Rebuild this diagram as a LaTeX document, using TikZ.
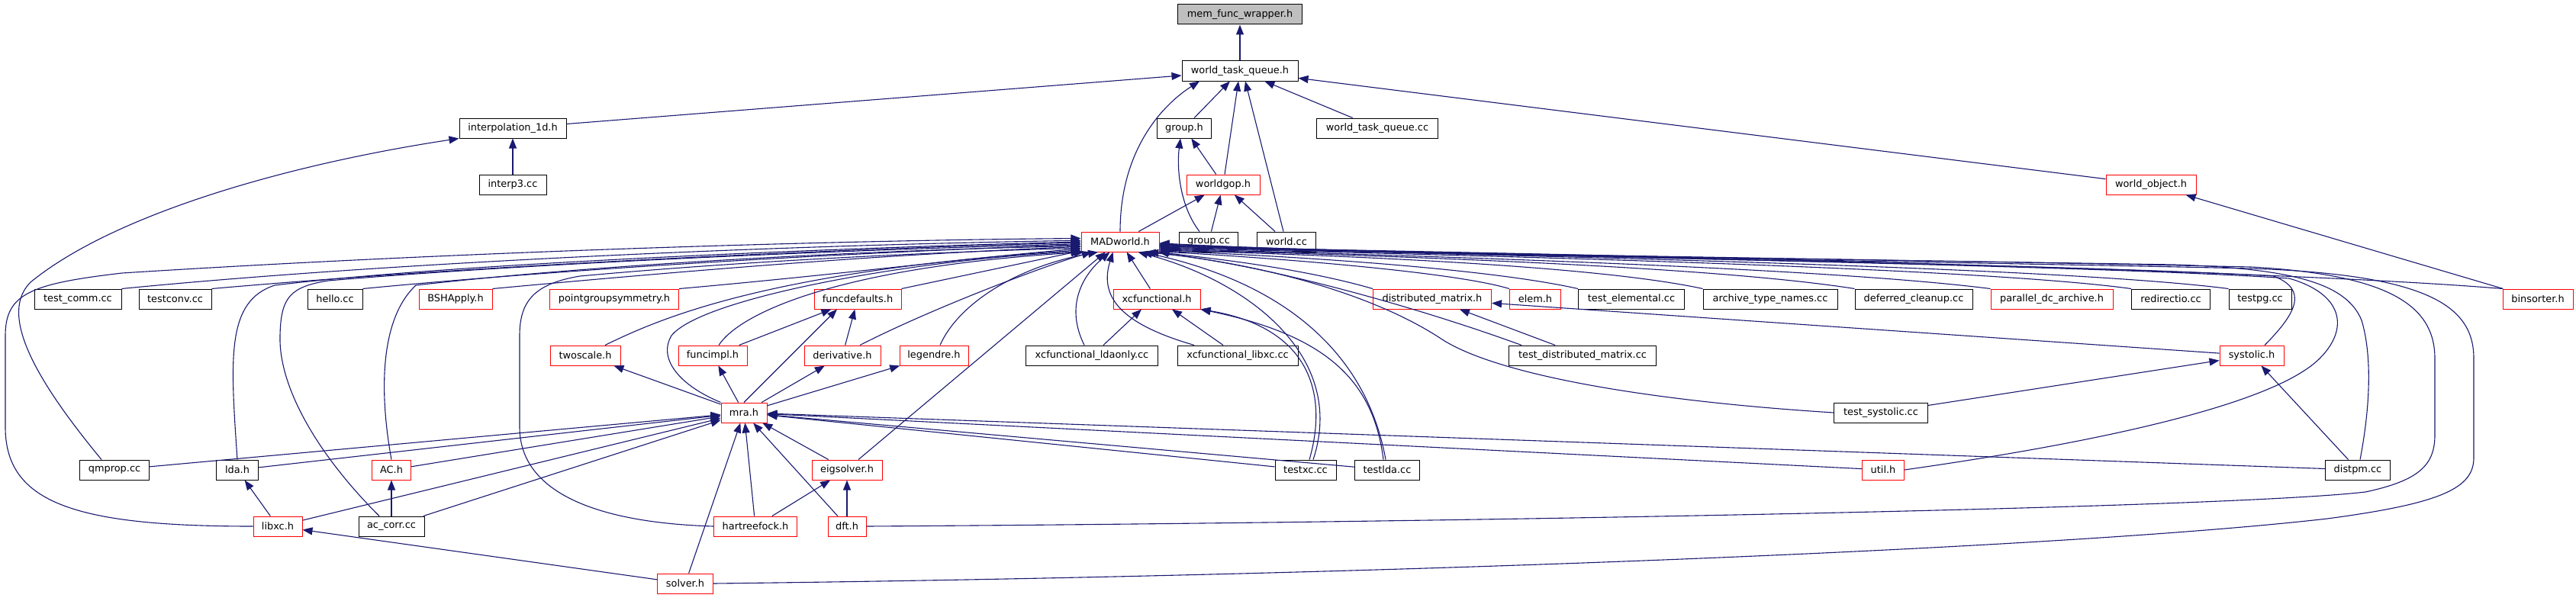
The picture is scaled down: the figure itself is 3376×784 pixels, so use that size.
\documentclass[tikz,border=0pt]{standalone}
\usepackage{fontspec}
\setmainfont{DejaVu Sans}
\usetikzlibrary{arrows.meta}
\definecolor{edgeblue}{RGB}{25,25,112}
\definecolor{nodegray}{RGB}{191,191,191}
\begin{document}
\begin{tikzpicture}[x=1pt,y=-1pt,
  font=\fontsize{12.9pt}{15pt}\selectfont,
  nb/.style={draw=black, line width=1pt, minimum height=26pt, inner sep=0pt, fill=white},
  nr/.style={nb, draw=red},
  e/.style={draw=edgeblue, line width=1.1pt, -{Triangle[length=13pt,width=10pt]}}]
\useasboundingbox (0,0) rectangle (3376,784);
% row 0-4
\node[nb, fill=nodegray, minimum width=163pt] (memf) at (1625,19) {mem\_func\_wrapper.h};
\node[nb, minimum width=152pt] (wtq) at (1625,93) {world\_task\_queue.h};
\node[nb, minimum width=140pt] (interp) at (672,168) {interpolation\_1d.h};
\node[nb, minimum width=71pt] (grouph) at (1552,168) {group.h};
\node[nb, minimum width=159pt] (wtqcc) at (1805,168) {world\_task\_queue.cc};
\node[nb, minimum width=88pt] (interp3) at (672,242) {interp3.cc};
\node[nr, minimum width=96pt] (worldgop) at (1603,242) {worldgop.h};
\node[nr, minimum width=118pt] (worldobj) at (2819,242) {world\_object.h};
\node[nr, minimum width=102pt] (madworld) at (1468,317) {MADworld.h};
\node[nb, minimum width=77pt] (groupcc) at (1584,317) {group.cc};
\node[nb, minimum width=77pt] (worldcc) at (1686,317) {world.cc};
% row 5
\node[nb, minimum width=114pt] (testcomm) at (102,392) {test\_comm.cc};
\node[nb, minimum width=95pt] (testconv) at (229.5,392) {testconv.cc};
\node[nb, minimum width=72pt] (hello) at (439,392) {hello.cc};
\node[nr, minimum width=96pt] (bsh) at (597,392) {BSHApply.h};
\node[nr, minimum width=169pt] (pgs) at (805,392) {pointgroupsymmetry.h};
\node[nr, minimum width=114pt] (funcdef) at (1124,392) {funcdefaults.h};
\node[nr, minimum width=114pt] (xcfunc) at (1516,392) {xcfunctional.h};
\node[nr, minimum width=155pt] (distmat) at (1877,392) {distributed\_matrix.h};
\node[nr, minimum width=67pt] (elem) at (2012,392) {elem.h};
\node[nb, minimum width=139pt] (testelem) at (2138,392) {test\_elemental.cc};
\node[nb, minimum width=176pt] (archive) at (2320,392) {archive\_type\_names.cc};
\node[nb, minimum width=154pt] (deferred) at (2508,392) {deferred\_cleanup.cc};
\node[nr, minimum width=160pt] (pdc) at (2689,392) {parallel\_dc\_archive.h};
\node[nb, minimum width=103pt] (redirect) at (2845,392) {redirectio.cc};
\node[nb, minimum width=82pt] (testpg) at (2962,392) {testpg.cc};
\node[nr, minimum width=92pt] (binsorter) at (3326,392) {binsorter.h};
% row 6
\node[nr, minimum width=92pt] (twoscale) at (767,466) {twoscale.h};
\node[nr, minimum width=90pt] (funcimpl) at (934,466) {funcimpl.h};
\node[nr, minimum width=100pt] (derivative) at (1104,466) {derivative.h};
\node[nr, minimum width=90pt] (legendre) at (1224,466) {legendre.h};
\node[nb, minimum width=173pt] (xcldaonly) at (1431,466) {xcfunctional\_ldaonly.cc};
\node[nb, minimum width=158pt] (xclibxc) at (1622,466) {xcfunctional\_libxc.cc};
\node[nb, minimum width=193pt] (testdistmat) at (2074,466) {test\_distributed\_matrix.cc};
\node[nr, minimum width=84pt] (systolic) at (2951,466) {systolic.h};
% row 7
\node[nr, minimum width=60pt] (mra) at (975,541) {mra.h};
\node[nb, minimum width=123pt] (testsystolic) at (2465,541) {test\_systolic.cc};
% row 8
\node[nb, minimum width=91pt] (qmprop) at (150,616) {qmprop.cc};
\node[nb, minimum width=55pt] (ldah) at (311,616) {lda.h};
\node[nr, minimum width=51pt] (ach) at (513,616) {AC.h};
\node[nr, minimum width=92pt] (eigsolver) at (1110,616) {eigsolver.h};
\node[nb, minimum width=80pt] (testxc) at (1711,616) {testxc.cc};
\node[nb, minimum width=85pt] (testlda) at (1818,616) {testlda.cc};
\node[nr, minimum width=55pt] (utilh) at (2468,616) {util.h};
\node[nb, minimum width=85pt] (distpm) at (3090,616) {distpm.cc};
% row 9-10
\node[nr, minimum width=64pt] (libxc) at (364,690) {libxc.h};
\node[nb, minimum width=86pt] (accorr) at (513,690) {ac\_corr.cc};
\node[nr, minimum width=109pt] (hartree) at (990,690) {hartreefock.h};
\node[nr, minimum width=50pt] (dft) at (1110,690) {dft.h};
\node[nr, minimum width=73pt] (solver) at (898,765) {solver.h};

% ---- top edges
\draw[e] (wtq) -- (memf);
\draw[e] (interp) -- (wtq);
\draw[e] (grouph) -- (wtq);
\draw[e] (worldgop) -- (wtq);
\draw[e] ([xshift=-4pt]worldcc.north) -- ([xshift=7pt]wtq.south);
\draw[e] (wtqcc) -- (wtq);
\draw[e] (worldobj) -- (wtq);
\draw[e] (madworld.north) .. controls (1468,200) and (1520,140) .. ([xshift=-53pt]wtq.south);
\draw[e] (interp3) -- (interp);
\draw[e] ([xshift=-12pt]groupcc.north) .. controls (1546,270) and (1542,220) .. ([xshift=-5pt]grouph.south);
\draw[e] (worldgop) -- (grouph);
\draw[e] (groupcc) -- (worldgop);
\draw[e] (madworld) -- (worldgop);
\draw[e] (worldcc) -- (worldgop);
\draw[e] (binsorter) -- (worldobj);
\draw[e] ([xshift=-17pt]qmprop.north) .. controls (40,490) and (0,410) .. (40,370) .. controls (150,280) and (380,215) .. (interp.south west);

% ---- left edges into MADworld
\draw[e] (libxc.west) .. controls (100,690) and (7,660) .. (7,560) -- (7,440) .. controls (7,385) and (40,372) .. (160,358) .. controls (600,330) and (1100,315) .. (madworld.175);
\draw[e] (testcomm.north east) .. controls (500,345) and (1000,322) .. (madworld.178);
\draw[e] (testconv.north east) .. controls (600,350) and (1050,328) .. (madworld.181);
\draw[e] (hello.north east) .. controls (750,352) and (1100,332) .. (madworld.184);
\draw[e] (bsh.north east) .. controls (900,355) and (1150,334) .. (madworld.187);
\draw[e] (pgs.north east) .. controls (1100,360) and (1300,335) .. (madworld.190);
\draw[e] (ldah.north) .. controls (302,470) and (296,395) .. (360,374) .. controls (600,345) and (1100,325) .. (madworld.180);
\draw[e] ([xshift=-16pt]accorr.north) .. controls (420,600) and (365,510) .. (367,440) .. controls (368,390) and (380,376) .. (430,368) .. controls (700,345) and (1100,328) .. (madworld.183);
\draw[e] (ach.north) .. controls (498,520) and (496,420) .. (545,374) .. controls (800,345) and (1150,328) .. (madworld.186);
\draw[e] (hartree.west) .. controls (770,685) and (681,640) .. (681,560) -- (681,440) .. controls (681,395) and (700,372) .. (760,362) .. controls (1000,340) and (1250,330) .. (madworld.189);
\draw[e] ([xshift=26pt]twoscale.north) .. controls (860,420) and (1000,355) .. (madworld.192);
\draw[e] ([xshift=8pt]funcimpl.north) .. controls (970,410) and (1100,350) .. (madworld.196);
\draw[e] (mra.north west) .. controls (890,505) and (862,470) .. (880,440) .. controls (920,390) and (1200,340) .. (madworld.194);
\draw[e] (funcdef.north east) -- (madworld.193);

% ---- mra region
\draw[e] (mra) -- (twoscale);
\draw[e] (mra) -- (funcimpl);
\draw[e] (mra.north) -- ([xshift=-27pt]funcdef.south);
\draw[e] (mra) -- (derivative);
\draw[e] (mra) -- (legendre);
\draw[e] (funcimpl) -- (funcdef);
\draw[e] (derivative) -- (funcdef);
\draw[e] ([xshift=23pt]derivative.north) .. controls (1230,400) and (1380,345) .. (madworld.200);
\draw[e] ([xshift=8pt]legendre.north) .. controls (1255,400) and (1330,350) .. (madworld.205);
\draw[e] ([xshift=15pt]eigsolver.north) -- (madworld.215);
\draw[e] (eigsolver) -- (mra);
\draw[e] (hartree) -- (eigsolver);
\draw[e] (hartree) -- (mra);
\draw[e] (dft) -- (eigsolver);
\draw[e] (dft) -- (mra);
\draw[e] (solver) -- (libxc);
\draw[e] (solver) -- (mra);
\draw[e] (libxc) -- (ldah);
\draw[e] (libxc) -- (mra);
\draw[e] (accorr) -- (ach);
\draw[e] (accorr) -- (mra);
\draw[e] (ach) -- (mra);
\draw[e] (ldah) -- (mra);
\draw[e] (qmprop) -- (mra);

% ---- xcfunctional region
\draw[e] (xcfunc) -- (madworld);
\draw[e] ([xshift=-10pt]xcldaonly.north) .. controls (1395,400) and (1420,360) .. (madworld.225);
\draw[e] ([xshift=15pt]xcldaonly.north) -- ([xshift=-20pt]xcfunc.south);
\draw[e] ([xshift=-57pt]xclibxc.north) .. controls (1470,425) and (1440,390) .. (madworld.235);
\draw[e] ([xshift=-19pt]xclibxc.north) -- ([xshift=20pt]xcfunc.south);
\draw[e] ([xshift=5pt]testxc.north) .. controls (1740,520) and (1720,430) .. (xcfunc.south east);
\draw[e] ([xshift=-5pt]testlda.north) .. controls (1800,500) and (1740,440) .. (xcfunc.south east);
\draw[e] ([xshift=10pt]testxc.north) .. controls (1765,470) and (1640,370) .. (madworld.330);
\draw[e] ([xshift=-2pt]testlda.north) .. controls (1790,460) and (1680,370) .. (madworld.335);
\draw[e] (testxc) -- (mra);
\draw[e] (testlda) -- (mra);

% ---- right side into MADworld
\draw[e] (distmat.north west) .. controls (1700,350) and (1580,338) .. (madworld.345);
\draw[e] (elem.north west) .. controls (1900,355) and (1650,337) .. (madworld.346);
\draw[e] (testelem.north west) .. controls (1950,352) and (1700,336) .. (madworld.347);
\draw[e] (archive.north west) .. controls (2100,350) and (1800,336) .. (madworld.348);
\draw[e] (deferred.north west) .. controls (2250,350) and (1850,336) .. (madworld.349);
\draw[e] (pdc.north west) .. controls (2400,352) and (1900,336) .. (madworld.350);
\draw[e] (redirect.north west) .. controls (2600,352) and (2000,336) .. (madworld.351);
\draw[e] (testpg.north west) .. controls (2700,350) and (2000,335) .. (madworld.352);
\draw[e] (binsorter.north west) .. controls (3000,355) and (2200,335) .. (madworld.353);
\draw[e] ([xshift=-80pt]testdistmat.north) .. controls (1850,400) and (1650,345) .. (madworld.340);
\draw[e] (testsystolic.west) .. controls (2150,525) and (1960,490) .. (1890,445) .. controls (1800,385) and (1650,345) .. (madworld.338);
\draw[e] ([xshift=17pt]systolic.north) .. controls (3010,410) and (3025,380) .. (2980,362) .. controls (2700,345) and (1800,333) .. (madworld.354);
\draw[e] (utilh.east) .. controls (2750,580) and (2980,530) .. (3040,470) .. controls (3080,430) and (3070,385) .. (3000,365) .. controls (2700,345) and (1800,333) .. (madworld.355);
\draw[e] ([xshift=3pt]distpm.north) .. controls (3105,540) and (3110,470) .. (3095,420) .. controls (3075,370) and (3000,352) .. (2850,347) .. controls (2300,338) and (1800,333) .. (madworld.356);
\draw[e] (dft.east) .. controls (1800,686) and (2900,668) .. (3100,645) .. controls (3170,630) and (3191,610) .. (3191,570) -- (3191,470) .. controls (3191,400) and (3130,360) .. (2950,350) .. controls (2400,338) and (1800,333) .. (madworld.357);
\draw[e] (solver.east) .. controls (1800,755) and (2700,720) .. (3050,680) .. controls (3200,660) and (3242,640) .. (3242,600) -- (3242,470) .. controls (3242,400) and (3180,360) .. (2950,352) .. controls (2400,340) and (1800,334) .. (madworld.358);

% ---- systolic / distmat
\draw[e] (testsystolic) -- (systolic);
\draw[e] (distpm) -- (systolic);
\draw[e] (distpm) -- (mra);
\draw[e] (utilh) -- (mra);
\draw[e] (systolic) -- (distmat);
\draw[e] (testdistmat) -- (distmat);
\end{tikzpicture}
\end{document}
